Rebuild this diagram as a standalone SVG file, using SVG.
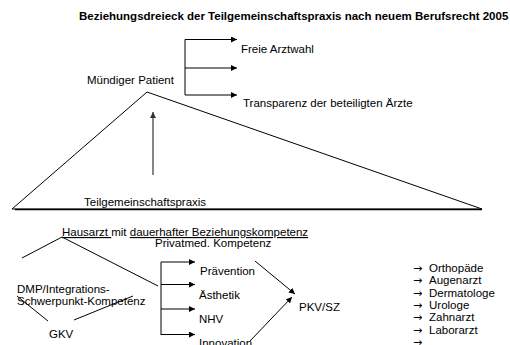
<svg xmlns="http://www.w3.org/2000/svg" width="510" height="345" viewBox="0 0 510 345">
<style>
text{font-family:"Liberation Sans",Arial,sans-serif;font-size:11.5px;fill:#000}
.title{font-weight:bold}
.ar{font-family:"DejaVu Sans",sans-serif;font-size:11px}
.ln{stroke:#000;stroke-width:1;fill:none}
.arr{stroke:#000;stroke-width:1;fill:none;marker-end:url(#ah)}
.u{text-decoration:underline}
</style>
<defs>
<marker id="ah" markerUnits="userSpaceOnUse" markerWidth="7" markerHeight="6" refX="6" refY="3" orient="auto">
<path d="M0,0 L6,3 L0,6 z" fill="#000"/>
</marker>
<marker id="ahg" markerUnits="userSpaceOnUse" markerWidth="7" markerHeight="6" refX="6" refY="3" orient="auto">
<path d="M0,0 L6,3 L0,6 z" fill="#333"/>
</marker>
</defs>
<rect width="510" height="345" fill="#fff"/>
<g id="title"><text class="title" x="79" y="20">Beziehungsdreieck der Teilgemeinschaftspraxis nach neuem Berufsrecht 2005</text></g>
<g id="connectors">
<path class="ln" d="M12,209 L147,92 L482,209 Z" stroke-linejoin="miter"/>
<line x1="15" y1="209.5" x2="482" y2="209.5" stroke="#000" stroke-width="1.3"/>
<line x1="153" y1="175" x2="153" y2="112" stroke="#333" stroke-width="1.2" marker-end="url(#ahg)"/>
<line class="ln" x1="185" y1="39.5" x2="185" y2="95"/>
<line class="arr" x1="185" y1="39.5" x2="237" y2="39.5"/>
<line class="arr" x1="185" y1="68" x2="237" y2="68"/>
<line class="arr" x1="185" y1="95" x2="237" y2="95"/>
<line class="ln" x1="62" y1="237" x2="22" y2="258"/>
<line class="ln" x1="62" y1="237" x2="158" y2="286"/>
<line class="ln" x1="161" y1="262" x2="161" y2="335"/>
<line class="arr" x1="161" y1="262" x2="195" y2="262"/>
<line class="arr" x1="161" y1="284.5" x2="195" y2="284.5"/>
<line class="arr" x1="161" y1="309" x2="195" y2="309"/>
<line class="arr" x1="161" y1="334.5" x2="195" y2="334.5"/>
<line class="arr" x1="255" y1="261" x2="295" y2="294"/>
<line class="arr" x1="250" y1="341" x2="292" y2="297"/>
<line class="ln" x1="17" y1="296" x2="48" y2="321"/>
<line class="ln" x1="74" y1="320" x2="133" y2="296"/>
</g>
<g id="patient"><text x="87" y="84">Mündiger Patient</text></g>
<g id="freie"><text x="241" y="53">Freie Arztwahl</text></g>
<g id="transparenz"><text x="243" y="107">Transparenz der beteiligten Ärzte</text></g>
<g id="tgp"><text x="84" y="206">Teilgemeinschaftspraxis</text></g>
<g id="hausarzt"><text x="62" y="236"><tspan class="u">Hausarzt </tspan>mit <tspan class="u">dauerhafter Beziehungskompetenz</tspan></text></g>
<g id="privatmed"><text x="155" y="247">Privatmed. Kompetenz</text></g>
<g id="praevention"><text x="200" y="275">Prävention</text></g>
<g id="aesthetik"><text x="199" y="299">Ästhetik</text></g>
<g id="nhv"><text x="199" y="323">NHV</text></g>
<g id="innovation"><text x="199" y="347">Innovation</text></g>
<g id="pkv"><text x="299" y="311">PKV/SZ</text></g>
<g id="dmp"><text x="17" y="293">DMP/Integrations-</text><text x="17" y="305">Schwerpunkt-Kompetenz</text></g>
<g id="gkv"><text x="49" y="338">GKV</text></g>
<g id="liste">
<text class="ar" x="413" y="272">→</text><text x="429" y="272">Orthopäde</text>
<text class="ar" x="413" y="284.3">→</text><text x="429" y="284.3">Augenarzt</text>
<text class="ar" x="413" y="296.6">→</text><text x="429" y="296.6">Dermatologe</text>
<text class="ar" x="413" y="308.9">→</text><text x="429" y="308.9">Urologe</text>
<text class="ar" x="413" y="321.2">→</text><text x="429" y="321.2">Zahnarzt</text>
<text class="ar" x="413" y="333.5">→</text><text x="429" y="333.5">Laborarzt</text>
<text class="ar" x="413" y="345.8">→</text>
</g>
</svg>
